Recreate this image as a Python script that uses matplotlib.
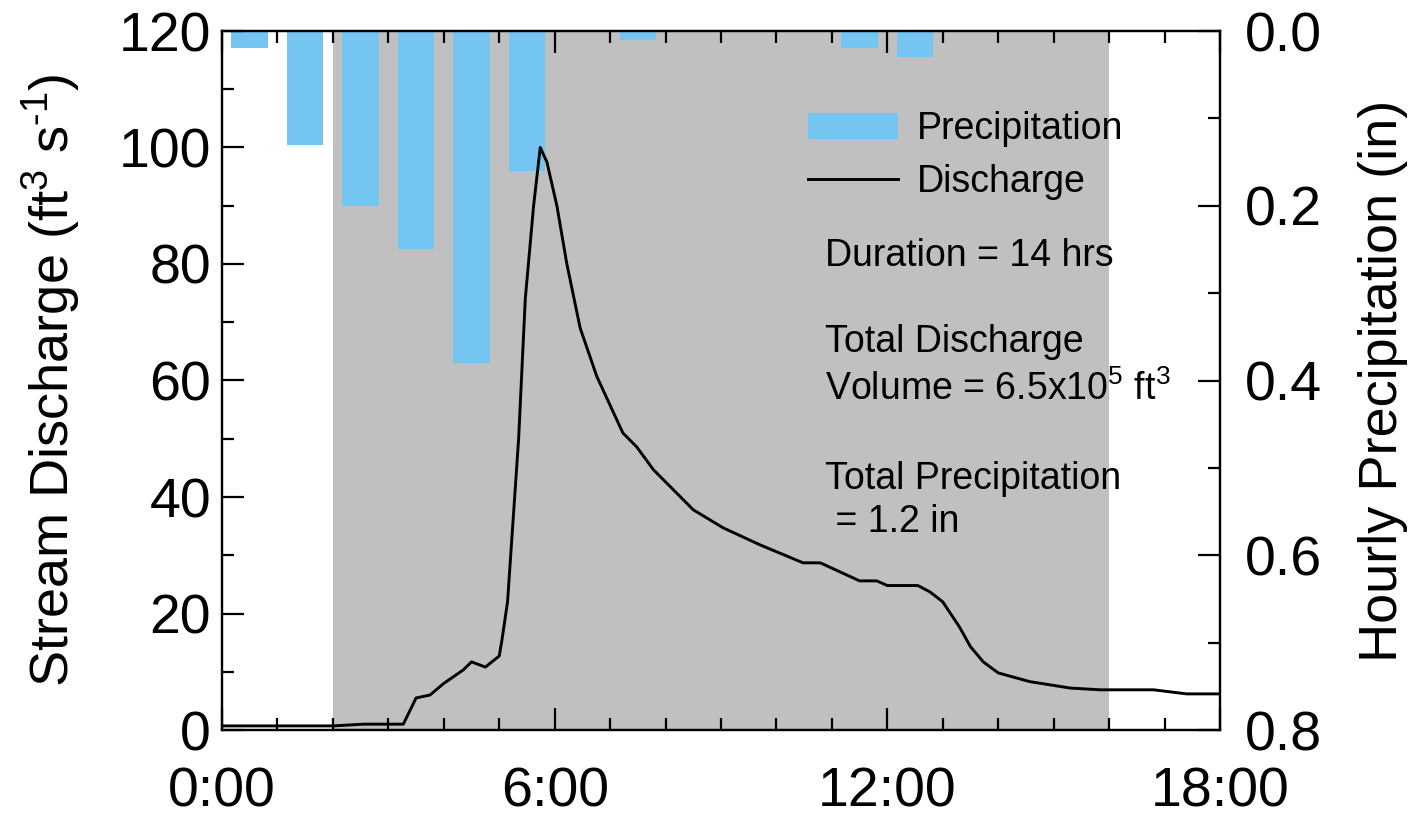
import matplotlib
matplotlib.use("Agg")
import matplotlib.pyplot as plt
from matplotlib.ticker import MultipleLocator, FixedLocator

plt.rcParams['font.family'] = ['Liberation Sans', 'DejaVu Sans']
plt.rcParams['mathtext.fontset'] = 'custom'
plt.rcParams['mathtext.rm'] = 'Liberation Sans'
plt.rcParams['mathtext.it'] = 'Liberation Sans:italic'

# hourly precipitation (in), bars centred on the half hour
precip_hours = [0.5, 1.5, 2.5, 3.5, 4.5, 5.5, 7.5, 11.5, 12.5]
precip_in = [0.02, 0.13, 0.20, 0.25, 0.38, 0.16, 0.01, 0.02, 0.03]

# stream discharge (ft3/s) vs hours since 0:00
time_hr = [0, 1.95, 2.0, 2.55, 3.27, 3.5, 3.75, 4.0, 4.35, 4.5, 4.75, 5.0, 5.05,
           5.15, 5.35, 5.47, 5.62, 5.74, 5.86, 6.04, 6.22, 6.46, 6.76, 7.23, 7.48,
           7.78, 8.5, 9.04, 9.7, 10.48, 10.79, 11.5, 11.81, 12.0, 12.55, 12.77,
           13.0, 13.3, 13.5, 13.73, 14.0, 14.57, 15.3, 15.84, 16.8, 17.4, 18.0]
discharge = [0.7, 0.7, 0.7, 1.0, 1.0, 5.5, 6.0, 8.0, 10.3, 11.7, 10.8, 12.7, 15.5,
             22, 50, 74, 90, 100, 97.5, 90, 80, 69, 60.7, 51, 48.6,
             44.7, 37.8, 34.7, 31.8, 28.7, 28.7, 25.6, 25.6, 24.8, 24.8, 23.7,
             22, 17.7, 14.3, 11.7, 9.8, 8.3, 7.2, 6.9, 6.9, 6.2, 6.2]

event_start, event_end = 2.0, 16.0
xtick_pos = [0, 6, 12, 18]
xtick_labels = ['0:00', '6:00', '12:00', '18:00']

notes = [
    (825, 256, 'Duration = 14 hrs'),
    (825, 342, 'Total Discharge'),
    (825, 389, r'Volume = 6.5x10$^{\mathregular{5}}$ ft$^{\mathregular{3}}$'),
    (825, 479, 'Total Precipitation'),
    (825, 522, ' = 1.2 in'),
]

W, H = 1422, 822
fig = plt.figure(figsize=(W / 100, H / 100), dpi=100)
ax1 = fig.add_axes([222 / W, 1 - 730 / H, (1220 - 222) / W, (730 - 31) / H])
ax2 = ax1.twinx()

# shaded event window and precipitation bars on the right axis
ax2.axvspan(event_start, event_end, color='#c0c0c0', lw=0, zorder=0)
ax2.bar(precip_hours, precip_in, width=0.66, color='#75c5f3', lw=0, zorder=1,
        label='Precipitation')
ax2.set_ylim(0.8, 0.0)
ax2.yaxis.set_major_locator(MultipleLocator(0.2))
ax2.yaxis.set_minor_locator(MultipleLocator(0.1))
ax2.set_ylabel('Hourly Precipitation (in)', fontsize=39, labelpad=26)

# discharge line on the left axis, kept above the bars
ax1.set_zorder(ax2.get_zorder() + 1)
ax1.patch.set_visible(False)
ax1.plot(time_hr, discharge, color='black', lw=2.1, label='Discharge')
ax1.set_xlim(0, 18)
ax1.set_ylim(0, 120)
ax1.xaxis.set_major_locator(FixedLocator(xtick_pos))
ax1.set_xticklabels(xtick_labels)
ax1.xaxis.set_minor_locator(MultipleLocator(1))
ax1.yaxis.set_major_locator(MultipleLocator(20))
ax1.yaxis.set_minor_locator(MultipleLocator(10))
ax1.set_ylabel(r'Stream Discharge (ft$^{\mathregular{3}}$ s$^{\mathregular{\text{-}1}}$)',
               fontsize=39, labelpad=26)

ax1.tick_params(which='both', direction='in', top=True, right=False, width=1.6,
                labelsize=40)
ax1.tick_params(which='major', length=16)
ax1.tick_params(which='minor', length=8.5)
ax1.tick_params(axis='y', pad=8)
ax1.tick_params(axis='x', pad=26)
ax2.tick_params(which='both', direction='in', width=1.6, labelsize=40, pad=18)
ax2.tick_params(which='major', length=16)
ax2.tick_params(which='minor', length=8.5)

for ax in (ax1, ax2):
    for sp in ax.spines.values():
        sp.set_linewidth(1.6)

h2, l2 = ax2.get_legend_handles_labels()
h1, l1 = ax1.get_legend_handles_labels()
ax1.legend(h2 + h1, l2 + l1, loc='upper left', frameon=False, fontsize=27,
           handlelength=2.4, handletextpad=0.5, labelspacing=0.45,
           borderaxespad=0, borderpad=0,
           bbox_to_anchor=(808 / W, 1 - 111 / H), bbox_transform=fig.transFigure)

for x, y, s in notes:
    fig.text(x / W, 1 - y / H, s, fontsize=27, va='center', ha='left')

fig.savefig('out.png', dpi=100)
